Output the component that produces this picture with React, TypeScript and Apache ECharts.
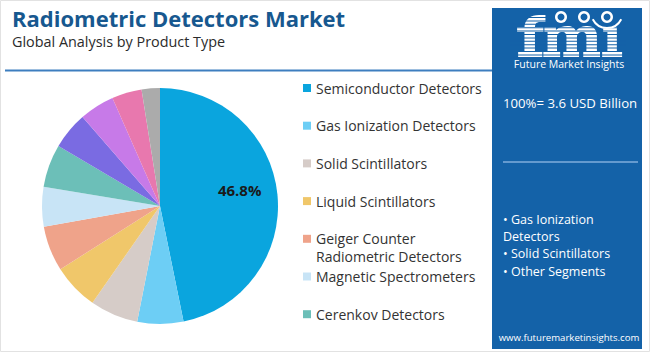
import React, { useEffect, useRef } from "react";
import * as echarts from "echarts";

const categories = [
  "Semiconductor Detectors",
  "Gas Ionization Detectors",
  "Solid Scintillators",
  "Liquid Scintillators",
  "Geiger Counter Radiometric Detectors",
  "Magnetic Spectrometers",
  "Cerenkov Detectors",
  "Proportional Counters",
  "Neutron Detectors",
  "Ionization Chambers",
  "Others",
];
const values = [46.8, 6.3, 6.6, 6.3, 6.2, 5.4, 5.9, 5.1, 4.8, 4.1, 2.5];
const colors = [
  "#0AA5DE",
  "#6DCEF5",
  "#D6CCC8",
  "#F0C76A",
  "#EFA38A",
  "#C8E4F6",
  "#6CBFB8",
  "#7A6BE2",
  "#C77AE8",
  "#E878AE",
  "#ABABAB",
];
const legendLabels = [
  ["Semiconductor Detectors"],
  ["Gas Ionization Detectors"],
  ["Solid Scintillators"],
  ["Liquid Scintillators"],
  ["Geiger Counter", "Radiometric Detectors"],
  ["Magnetic Spectrometers"],
  ["Cerenkov Detectors"],
];
const title = "Radiometric Detectors Market";
const subtitle = "Global Analysis by Product Type";
const totalText = "100%= 3.6 USD Billion";
const bulletLines = ["• Gas Ionization", "Detectors", "• Solid Scintillators", "• Other Segments"];
const website = "www.futuremarketinsights.com";

const FONT = "'Open Sans', 'Noto Sans', sans-serif";
const PANEL = "#1462A8";

const LOGO_D =
  "M9,43 L9,14 C9,5 15,1 23,1 L29,1 L29,8 L24,8 C20,8 19,10 19,14 L19,43 Z " +
  "M2,13 L27,13 L27,18 L2,18 Z " +
  "M3,38 L26,38 L26,43 L3,43 Z " +
  "M31,43 L31,18 L28,18 L28,13 L39,13 L39,16 C42,13 46,12 50,12 C54,12 57,14 58,17 C61,13 65,12 69,12 C75,12 78,16 78,22 L78,43 L68,43 L68,23 C68,20 67,18 64,18 C61,18 59,20 59,23 L59,43 L49,43 L49,23 C49,20 48,18 45,18 C42,18 40,20 40,23 L40,43 Z " +
  "M27,38 L43,38 L43,43 L27,43 Z " +
  "M46,38 L61,38 L61,43 L46,43 Z " +
  "M65,38 L81,38 L81,43 L65,43 Z " +
  "M88,43 L88,18 L84,18 L84,13 L97,13 L97,43 Z " +
  "M83,38 L102,38 L102,43 L83,43 Z";

export default function App() {
  const ref = useRef<HTMLDivElement>(null);
  useEffect(() => {
    if (!ref.current) return;
    echarts.graphic.registerShape("fmilogo", echarts.graphic.extendPath(LOGO_D, {}));
    const chart = echarts.init(ref.current, null, { renderer: "svg" });

    const legendEls: any[] = [];
    legendLabels.forEach((lines, i) => {
      const y = 88 + i * 37.7;
      legendEls.push({
        type: "rect",
        shape: { x: 303, y: y - 4, width: 8, height: 8 },
        style: { fill: colors[i] },
      });
      lines.forEach((t, j) => {
        legendEls.push({
          type: "text",
          x: 316,
          y: y + j * 18,
          style: {
            text: t,
            font: `14px ${FONT}`,
            fill: "#333333",
            verticalAlign: "middle",
          },
        });
      });
    });

    const stripes: any[] = [];
    for (let k = 0; k < 13; k++) {
      stripes.push({
        type: "rect",
        shape: { x: 510, y: 17 + k * 3.4, width: 116, height: 1 },
        style: { fill: PANEL },
      });
    }

    chart.setOption({
      animation: false,
      backgroundColor: "#ffffff",
      series: [
        {
          type: "pie",
          center: [160, 206],
          radius: 118,
          startAngle: 90,
          clockwise: true,
          data: categories.map((n, i) => ({
            name: n,
            value: values[i],
            itemStyle: { color: colors[i] },
            label: { show: i === 0 },
          })),
          label: {
            position: "inside",
            formatter: "{c}%",
            fontFamily: FONT,
            fontWeight: "bold",
            fontSize: 15,
            color: "#1a1a1a",
          },
          labelLayout: (p: any) => (p.dataIndex === 0 ? { dx: 18, dy: -10 } : {}),
          labelLine: { show: false },
          emphasis: { disabled: true },
        },
      ],
      graphic: [
        {
          type: "rect",
          shape: { x: 0.5, y: 0.5, width: 649, height: 351 },
          style: { fill: "none", stroke: "#e2e2e2", lineWidth: 1 },
          silent: true,
        },
        {
          type: "text",
          x: 12,
          y: 18,
          style: {
            text: title,
            font: `bold 22px ${FONT}`,
            fill: "#17588F",
            verticalAlign: "middle",
          },
        },
        {
          type: "text",
          x: 12,
          y: 41,
          style: {
            text: subtitle,
            font: `14.4px ${FONT}`,
            fill: "#2b2b2b",
            verticalAlign: "middle",
          },
        },
        {
          type: "line",
          shape: { x1: 5, y1: 70.5, x2: 492, y2: 70.5 },
          style: { stroke: "#3D7EBF", lineWidth: 2 },
        },
        {
          type: "rect",
          shape: { x: 492, y: 8, width: 150, height: 341 },
          style: { fill: PANEL },
        },
        {
          type: "fmilogo",
          x: 515,
          y: 14,
          scaleX: 1.05,
          scaleY: 1.0,
          style: { fill: "#ffffff" },
        },
        ...stripes,
        { type: "circle", shape: { cx: 561, cy: 17, r: 6 }, style: { fill: "#ffffff" } },
        { type: "circle", shape: { cx: 584, cy: 17, r: 6 }, style: { fill: "#ffffff" } },
        { type: "circle", shape: { cx: 607, cy: 17, r: 6 }, style: { fill: "#ffffff" } },
        { type: "circle", shape: { cx: 561, cy: 17, r: 3.5 }, style: { fill: PANEL } },
        { type: "circle", shape: { cx: 584, cy: 17, r: 3.5 }, style: { fill: PANEL } },
        { type: "circle", shape: { cx: 607, cy: 17, r: 3.5 }, style: { fill: PANEL } },
        {
          type: "arc",
          shape: { cx: 607, cy: 12, r: 16, startAngle: Math.PI * 0.15, endAngle: Math.PI * 0.85 },
          style: { stroke: "#ffffff", lineWidth: 2, fill: "none" },
        },
        {
          type: "text",
          x: 569,
          y: 63.5,
          style: {
            text: "Future Market Insights",
            font: `10.5px ${FONT}`,
            fill: "#ffffff",
            align: "center",
            verticalAlign: "middle",
          },
        },
        {
          type: "text",
          x: 503,
          y: 103,
          style: {
            text: totalText,
            font: `13.2px ${FONT}`,
            fill: "#ffffff",
            verticalAlign: "middle",
          },
        },
        {
          type: "line",
          shape: { x1: 503, y1: 162, x2: 638, y2: 162 },
          style: { stroke: "#7FAEDD", lineWidth: 1.5 },
        },
        ...bulletLines.map((t, i) => ({
          type: "text",
          x: 503,
          y: 219 + i * 17.4,
          style: {
            text: t,
            font: `12.5px ${FONT}`,
            fill: "#ffffff",
            verticalAlign: "middle",
          },
        })),
        {
          type: "text",
          x: 569,
          y: 337,
          style: {
            text: website,
            font: `9.6px ${FONT}`,
            fill: "#ffffff",
            align: "center",
            verticalAlign: "middle",
          },
        },
        ...legendEls,
      ],
    });
    return () => chart.dispose();
  }, []);
  return (
    <div
      ref={ref}
      style={{ position: "absolute", left: 0, top: 0, width: 650, height: 352 }}
    />
  );
}
